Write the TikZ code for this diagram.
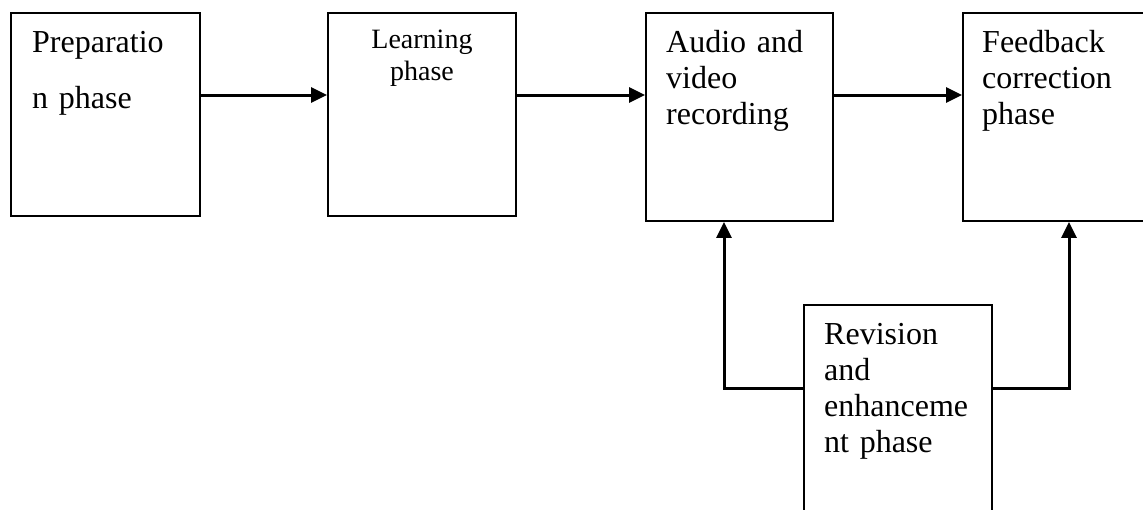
\documentclass[tikz,border=0pt]{standalone}
\usepackage{fontspec}
\setmainfont{Liberation Serif}
\usetikzlibrary{positioning,calc,arrows.meta}

\begin{document}
\begin{tikzpicture}[x=1pt,y=-1pt,
    phasebox/.style={draw, line width=1.9pt, anchor=north west, inner sep=0},
    phasetext/.style={anchor=base west, inner sep=0, text width=175pt, align=left,
      font=\fontsize{32}{36}\selectfont},
    flow/.style={line width=3pt, -{Triangle[length=16pt,width=15pt]}}]
  \clip (0,0) rectangle (1143,509);

  % boxes
  \node[phasebox, minimum width=189pt, minimum height=203pt] (prep) at (10,12) {};
  \node[phasebox, minimum width=188pt, minimum height=203pt] (learn) at (327,12) {};
  \node[phasebox, minimum width=187pt, minimum height=208pt] (audio) at (645,12) {};
  \node[phasebox, minimum width=220pt, minimum height=208pt] (feed) at (962,12) {};
  \node[phasebox, minimum width=188pt, minimum height=240pt] (rev) at (803,304) {};

  % texts
  \node[phasetext, font=\fontsize{32}{56}\selectfont] (prepText)
    at ($(prep.north west)+(22,40)$) {Preparatio\\n phase};
  \node[phasetext, anchor=base, text width=170pt, align=center,
    font=\fontsize{28}{32}\selectfont] (learnText)
    at ($(learn.north)+(0,36)$) {Learning\\phase};
  \node[phasetext] (audioText) at ($(audio.north west)+(21,40)$) {Audio and\\video\\recording};
  \node[phasetext] (feedText) at ($(feed.north west)+(20,40)$) {Feedback\\correction\\phase};
  \node[phasetext] (revText) at ($(rev.north west)+(21,40)$) {Revision\\and\\enhanceme\\nt phase};

  % connectors
  \draw[flow] ($(prep.north east)+(0,83)$) -- ($(learn.north west)+(0,83)$);
  \draw[flow] ($(learn.north east)+(0,83)$) -- ($(audio.north west)+(0,83)$);
  \draw[flow] ($(audio.north east)+(0,83)$) -- ($(feed.north west)+(0,83)$);
  \draw[flow] ($(rev.north west)+(0,84)$) -| ($(audio.south west)+(79,0)$);
  \draw[flow] ($(rev.north east)+(0,84)$) -| ($(feed.south west)+(107,0)$);
\end{tikzpicture}
\end{document}
